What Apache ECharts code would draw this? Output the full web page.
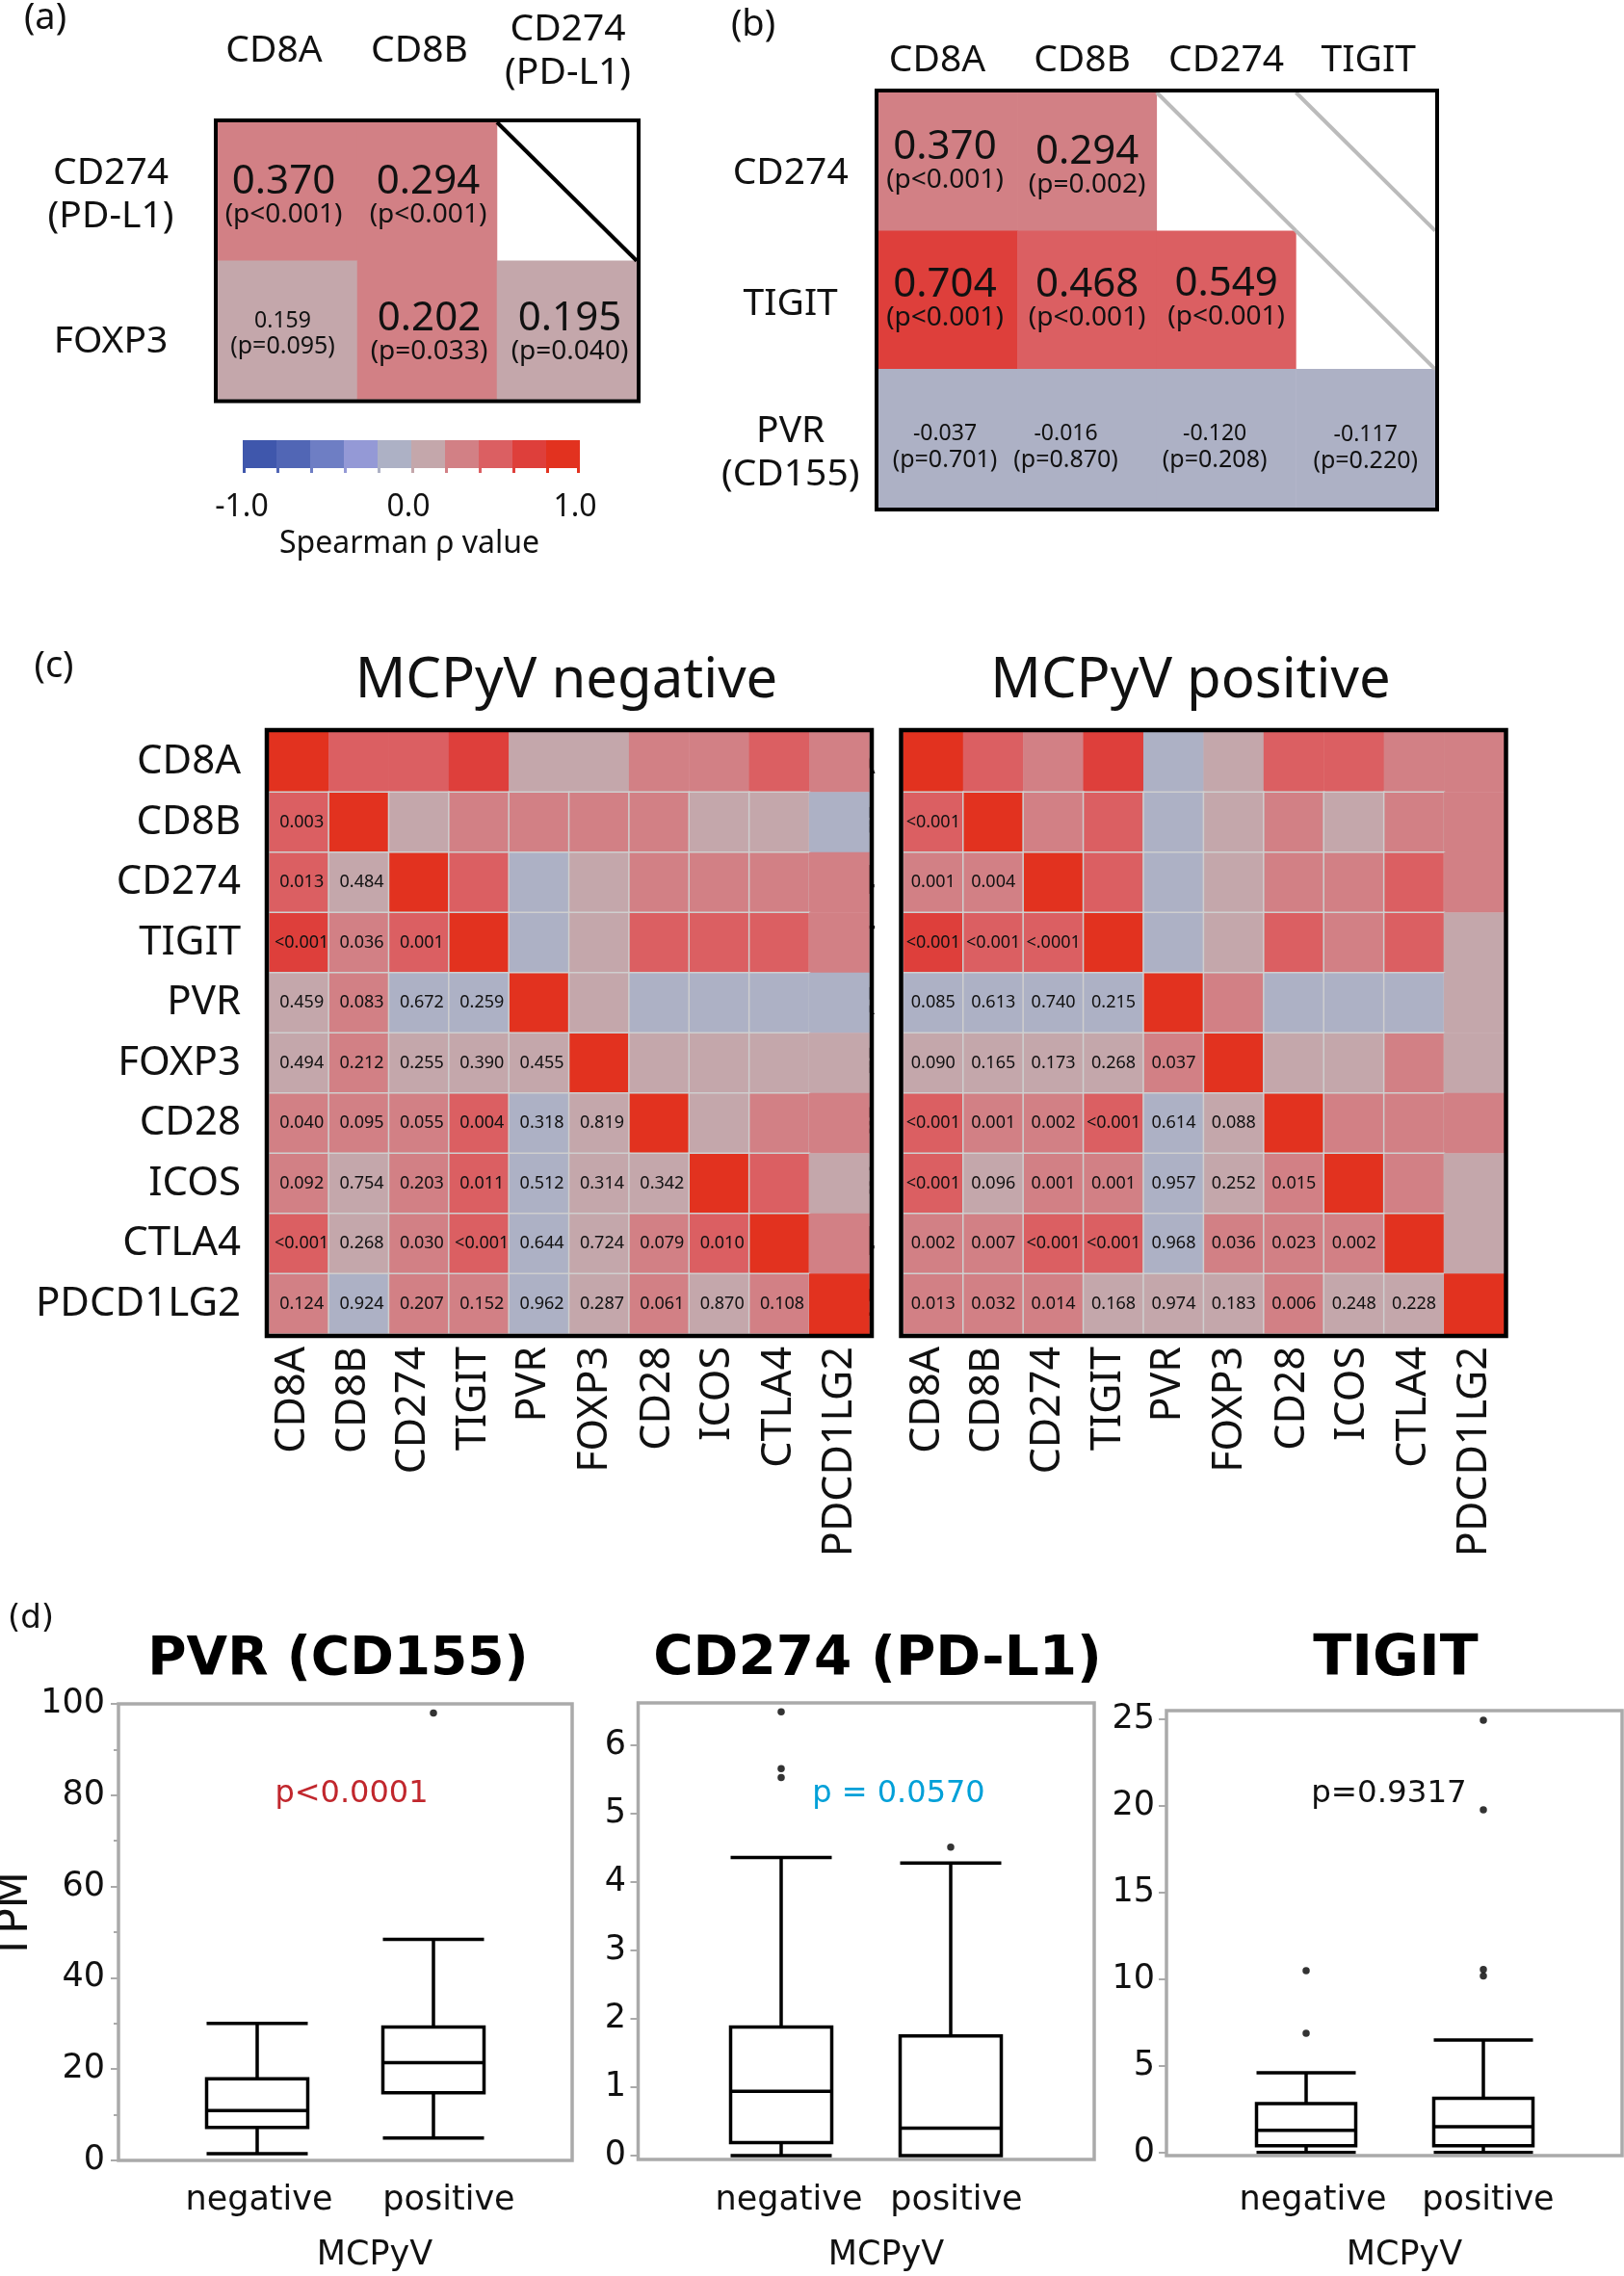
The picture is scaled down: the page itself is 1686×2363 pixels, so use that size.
<!DOCTYPE html>
<html>
<head>
<meta charset="utf-8">
<style>html,body{margin:0;padding:0;background:#fff}#c{width:1686px;height:2363px}</style>
<script src="https://cdn.jsdelivr.net/npm/echarts@6/dist/echarts.min.js"></script>
</head>
<body>
<div id="c"></div>
<script>
// ---------- DATA ----------
const binEdges = [-1,-0.8,-0.6,-0.4,-0.2,0,0.2,0.4,0.6,0.8,1];
const binColors = ['#3f57ac','#5166b5','#6e7ec4','#9499d6','#adb1c5','#c4a7ab','#d28085','#db5f62','#de3f3b','#e2321f'];
const colorbarTicks = [-1,0,1];

const aCols = ['CD8A','CD8B','CD274\n(PD-L1)'];
const aRows = ['CD274\n(PD-L1)','FOXP3'];
const aRho = [[0.370,0.294,null],[0.159,0.202,0.195]];
const aP = [['(p<0.001)','(p<0.001)',null],['(p=0.095)','(p=0.033)','(p=0.040)']];
const aDiag = [[2,0]];

const bCols = ['CD8A','CD8B','CD274','TIGIT'];
const bRows = ['CD274','TIGIT','PVR\n(CD155)'];
const bRho = [[0.370,0.294,null,null],[0.704,0.468,0.549,null],[-0.037,-0.016,-0.120,-0.117]];
const bP = [['(p<0.001)','(p=0.002)',null,null],['(p<0.001)','(p<0.001)','(p<0.001)',null],['(p=0.701)','(p=0.870)','(p=0.208)','(p=0.220)']];
const bDiag = [[2,0],[3,1],[3,0]];

const genes = ['CD8A','CD8B','CD274','TIGIT','PVR','FOXP3','CD28','ICOS','CTLA4','PDCD1LG2'];
// rho values
const negRho = [
 [1,.5,.5,.7,.1,.1,.3,.3,.5,.3],
 [.5,1,.1,.3,.3,.3,.3,.1,.1,-.1],
 [.5,.1,1,.5,-.1,.1,.3,.3,.3,.3],
 [.7,.3,.5,1,-.1,.1,.5,.5,.5,.3],
 [.1,.3,-.1,-.1,1,.1,-.1,-.1,-.1,-.1],
 [.1,.3,.1,.1,.1,1,.1,.1,.1,.1],
 [.3,.3,.3,.5,-.1,.1,1,.1,.3,.3],
 [.3,.1,.3,.5,-.1,.1,.1,1,.5,.1],
 [.5,.1,.3,.5,-.1,.1,.3,.5,1,.3],
 [.3,-.1,.3,.3,-.1,.1,.3,.1,.3,1]];
const posRho = [
 [1,.5,.3,.7,-.1,.1,.5,.5,.3,.3],
 [.5,1,.3,.5,-.1,.1,.3,.1,.3,.3],
 [.3,.3,1,.5,-.1,.1,.3,.3,.5,.3],
 [.7,.5,.5,1,-.1,.1,.5,.3,.5,.1],
 [-.1,-.1,-.1,-.1,1,.3,-.1,-.1,-.1,.1],
 [.1,.1,.1,.1,.3,1,.1,.1,.3,.1],
 [.5,.3,.3,.5,-.1,.1,1,.3,.3,.3],
 [.5,.1,.3,.3,-.1,.1,.3,1,.3,.1],
 [.3,.3,.5,.5,-.1,.3,.3,.3,1,.1],
 [.3,.3,.3,.1,.1,.1,.3,.1,.1,1]];
const negP = [[],
 ['0.003'],
 ['0.013','0.484'],
 ['<0.001','0.036','0.001'],
 ['0.459','0.083','0.672','0.259'],
 ['0.494','0.212','0.255','0.390','0.455'],
 ['0.040','0.095','0.055','0.004','0.318','0.819'],
 ['0.092','0.754','0.203','0.011','0.512','0.314','0.342'],
 ['<0.001','0.268','0.030','<0.001','0.644','0.724','0.079','0.010'],
 ['0.124','0.924','0.207','0.152','0.962','0.287','0.061','0.870','0.108']];
const posP = [[],
 ['<0.001'],
 ['0.001','0.004'],
 ['<0.001','<0.001','<.0001'],
 ['0.085','0.613','0.740','0.215'],
 ['0.090','0.165','0.173','0.268','0.037'],
 ['<0.001','0.001','0.002','<0.001','0.614','0.088'],
 ['<0.001','0.096','0.001','0.001','0.957','0.252','0.015'],
 ['0.002','0.007','<0.001','<0.001','0.968','0.036','0.023','0.002'],
 ['0.013','0.032','0.014','0.168','0.974','0.183','0.006','0.248','0.228']];

const groups = ['negative','positive'];
// [low, Q1, median, Q3, high]
const pvrBox = [[1.5,7.2,10.9,17.9,30.0],[4.9,14.8,21.4,29.2,48.4]];
const pvrOut = [[1,98]];
const cd274Box = [[0,0.19,0.94,1.88,4.36],[0,0.0,0.40,1.75,4.28]];
const cd274Out = [[0,6.49],[0,5.66],[0,5.53],[1,4.51]];
const tigitBox = [[0,0.38,1.28,2.82,4.6],[0,0.38,1.49,3.13,6.49]];
const tigitOut = [[0,10.49],[0,6.87],[1,24.95],[1,19.77],[1,10.56],[1,10.18]];

// ---------- LAYOUT TWEAKS (label nudges, px) ----------
const aCellShift = [[[-4,5],[1,5],null],[[-5,4],[2,3],[3,3]]];
const bCellShift = [[[-3,0],[0,5],null,null],[[-3,0],[0,0],[0,-1],null],[[-3,9],[-22,9],[-12,9],[0,10]]];
const cLabelPad = [12,12,12,11,11,9,3,3,0,0];

// ---------- BUILD ----------
const SANS = '"Noto Sans"', DJV = '"DejaVu Sans"', INK = '#111';
const grids = [], xAxes = [], yAxes = [], series = [], graphic = [], heatIdx = [];
const box = (l,t,r,b,extra) => Object.assign({left:l,top:t,width:r-l,height:b-t,show:false,containLabel:false,outerBoundsMode:'none'},extra||{});
function frame(l,t,r,b,color,w){
  graphic.push({type:'rect',z:50,shape:{x:l,y:t,width:r-l,height:b-t},style:{fill:'none',stroke:color,lineWidth:w}});
}
function text(t,x,y,size,opt){
  opt = opt||{};
  graphic.push({type:'text',z:60,x,y,rotation:opt.rotation||0,style:{text:t,fontSize:size,fontFamily:opt.font||SANS,fontWeight:opt.weight||'normal',fill:opt.fill||INK,align:'center',verticalAlign:'middle'}});
}
// Rich-text axis labels nudged by [dx,dy] per category
function nudged(labels, offs, size, font, lh){
  const rich = {};
  offs.forEach((o,i)=>{
    const pt = o[1]>0?2*o[1]:0, pr = o[0]<0?-2*o[0]:0, pl = o[0]>0?2*o[0]:0;
    rich['l'+i] = {fontSize:size,fontFamily:font,color:INK,lineHeight:lh,padding:[0,pr,0,pl]};
    rich['f'+i] = {fontSize:size,fontFamily:font,color:INK,lineHeight:lh+pt,padding:[pt,pr,0,pl]};
  });
  return {rich, formatter:(v)=>{
    const i = labels.indexOf(v);
    return v.split('\n').map((s,k)=>'{'+(k===0?'f':'l')+i+'|'+s+'}').join('\n');
  }};
}
function isBig(p){
  const m = /=(\d*\.\d+)/.exec(p);
  return !m || parseFloat(m[1]) < 0.05;
}
function diagRender(color,w){
  return function(params,api){
    const c = api.coord([api.value(0),api.value(1)]), s = api.size([1,1]);
    return {type:'line',shape:{x1:c[0]-s[0]/2,y1:c[1]-s[1]/2,x2:c[0]+s[0]/2,y2:c[1]+s[1]/2},style:{stroke:color,lineWidth:w,lineCap:'butt'},z2:10};
  };
}
function smallHeat(rect,cols,rows,rho,ps,shift,diag,diagColor,diagW,xOff,yOff,xMargin,yMargin,fs){
  const gi = grids.length;
  grids.push(box(rect[0],rect[1],rect[2],rect[3]));
  const xl = nudged(cols,xOff,fs,SANS,45), yl = nudged(rows,yOff,fs,SANS,45);
  xAxes.push({gridIndex:gi,type:'category',data:cols,position:'top',axisLine:{show:false},axisTick:{show:false},splitLine:{show:false},
    axisLabel:Object.assign({interval:0,margin:xMargin,verticalAlign:'middle'},xl)});
  yAxes.push({gridIndex:gi,type:'category',data:rows,inverse:true,axisLine:{show:false},axisTick:{show:false},splitLine:{show:false},
    axisLabel:Object.assign({interval:0,margin:yMargin,align:'center'},yl)});
  const data = [];
  rho.forEach((row,r)=>row.forEach((v,c)=>{
    if(v!==null) data.push({value:[c,r,v],label:{offset:shift[r][c]}});
  }));
  heatIdx.push(series.length);
  series.push({type:'heatmap',xAxisIndex:gi,yAxisIndex:gi,data,silent:true,
    itemStyle:{borderWidth:0},
    label:{show:true,color:INK,fontFamily:SANS,
      formatter:(p)=>{
        const [c,r,v]=p.value, pt=ps[r][c], vs=(v<0?'-':'')+Math.abs(v).toFixed(3);
        return isBig(pt)?'{big|'+vs+'}\n{sig|'+pt+'}':'{tiny|'+vs+'}\n{ns|'+pt+'}';
      },
      rich:{big:{fontSize:42,fontFamily:SANS,color:INK,lineHeight:38},sig:{fontSize:28,fontFamily:SANS,color:INK,lineHeight:30},
            tiny:{fontSize:23,fontFamily:SANS,color:INK,lineHeight:27},ns:{fontSize:25,fontFamily:SANS,color:INK,lineHeight:27}}}});
  series.push({type:'custom',xAxisIndex:gi,yAxisIndex:gi,data:diag,silent:true,clip:false,encode:{x:0,y:1},renderItem:diagRender(diagColor,diagW),z:5});
}
function bigHeat(rect,rho,ps,labelDx){
  const gi = grids.length;
  grids.push(box(rect[0],rect[1],rect[2],rect[3]));
  const rich = {};
  cLabelPad.forEach((p,i)=>{ rich['r'+i] = {fontSize:43,fontFamily:SANS,color:INK,padding:[0,0,p,0]}; });
  xAxes.push({gridIndex:gi,type:'category',data:genes,axisLine:{show:false},axisTick:{show:false},splitLine:{show:false},
    axisLabel:{interval:0,rotate:90,margin:13,align:'right',verticalAlign:'middle',rich,formatter:(v)=>'{r'+genes.indexOf(v)+'|'+v+'}'}});
  yAxes.push({gridIndex:gi,type:'category',data:genes,inverse:true,axisLine:{show:false},axisTick:{show:false},splitLine:{show:false},
    axisLabel:{interval:0,margin:29,fontSize:42,fontFamily:SANS,color:INK}});
  const data = [];
  rho.forEach((row,r)=>row.forEach((v,c)=>{
    const inner = r>=1 && c<=8;
    data.push({value:[c,r,v],itemStyle:inner?{borderColor:'#cfcfcf',borderWidth:1.5}:{borderWidth:0}});
  }));
  heatIdx.push(series.length);
  series.push({type:'heatmap',xAxisIndex:gi,yAxisIndex:gi,data,silent:true,
    label:{show:true,fontSize:18,fontFamily:SANS,color:INK,offset:[labelDx,0],
      formatter:(p)=>{const [c,r]=p.value;return (ps[r]&&ps[r][c])||'';}}});
}
function boxPanel(fr,inner,ymin,ymax,boxes,outs,yopts,xOff,boxW,labelMargin,tickRight){
  const gi = grids.length;
  grids.push(box(inner[0],inner[1],inner[2],inner[3]));
  const xl = nudged(groups,xOff,35,DJV,40);
  xAxes.push({gridIndex:gi,type:'category',data:groups,axisLine:{show:false},axisTick:{show:false},splitLine:{show:false},
    axisLabel:Object.assign({interval:0,margin:labelMargin,verticalAlign:'middle'},xl)});
  yAxes.push(Object.assign({gridIndex:gi,type:'value',min:ymin,max:ymax,offset:inner[0]-fr[0],
    axisLine:{show:false},splitLine:{show:false}},yopts,{
    axisTick:Object.assign({show:true,length:8,lineStyle:{color:'#aaa',width:2}},yopts.axisTick||{}),
    axisLabel:Object.assign({margin:fr[0]-tickRight,fontSize:35,fontFamily:DJV,color:INK},yopts.axisLabel||{})}));
  series.push({type:'boxplot',xAxisIndex:gi,yAxisIndex:gi,data:boxes,silent:true,boxWidth:[boxW,boxW],
    itemStyle:{color:'#fff',borderColor:'#000',borderWidth:3.5}});
  series.push({type:'scatter',xAxisIndex:gi,yAxisIndex:gi,data:outs,silent:true,clip:false,symbol:'circle',symbolSize:7.5,itemStyle:{color:'#000'}});
  frame(fr[0],fr[1],fr[2],fr[3],'#aaa',3.5);
}

// Panel (a)
smallHeat([226,127,661,414.5],aCols,aRows,aRho,aP,aCellShift,aDiag,'#000',4,
  [[-14,0],[-8,0],[1,0]],[[0,4],[0,12]],74,111,39);
frame(224,125,663,416.5,'#000',4);
// colour bar
(function(){
  const gi = grids.length;
  grids.push(box(252,457,602,486));
  xAxes.push({gridIndex:gi,type:'value',min:-1,max:1,axisLine:{show:false},axisTick:{show:false},splitLine:{show:false},
    axisLabel:{customValues:colorbarTicks,margin:41,fontSize:32,fontFamily:SANS,color:INK,verticalAlign:'middle',
      formatter:(v)=>{const s=v.toFixed(1);return v===0?'{m|'+s+'}':v===1?'{e|'+s+'}':'{b|'+s+'}';},
      rich:{b:{fontSize:32,fontFamily:SANS,color:INK,padding:[0,2,0,0]},m:{fontSize:32,fontFamily:SANS,color:INK,padding:[0,6,0,0]},e:{fontSize:32,fontFamily:SANS,color:INK,padding:[0,10,0,0]}}}});
  yAxes.push({gridIndex:gi,type:'value',min:0,max:1,show:false});
  const d = binColors.map((c,i)=>[binEdges[i],binEdges[i+1],i]);
  series.push({type:'custom',xAxisIndex:gi,yAxisIndex:gi,data:d,silent:true,clip:false,encode:{x:[0,1]},
    renderItem:(params,api)=>{
      const a=api.coord([api.value(0),0]),b=api.coord([api.value(1),1]),i=api.value(2),col=binColors[i];
      const kids=[{type:'rect',shape:{x:a[0],y:b[1],width:b[0]-a[0],height:a[1]-b[1]},style:{fill:col}},
                  {type:'rect',shape:{x:a[0],y:a[1],width:3,height:5},style:{fill:col}}];
      if(i===binColors.length-1) kids.push({type:'rect',shape:{x:b[0]-3,y:a[1],width:3,height:5},style:{fill:col}});
      return {type:'group',children:kids};
    }});
})();
text('Spearman ρ value',425,565,32);
text('(a)',47,19,38);

// Panel (b)
smallHeat([911.7,96,1490,527],bCols,bRows,bRho,bP,bCellShift,bDiag,'#bbb',4,
  [[-11,0],[-5,0],[0,0],[3,0]],[[0,12],[0,4],[0,15]],33,91,39);
frame(910,94,1492,529,'#000',4);
text('(b)',782,26,38);

// Panel (c)
bigHeat([279,760,902.6,1385],negRho,negP,3);
frame(277,758,905,1387,'#000',4.5);
bigHeat([937.6,760,1561.7,1385],posRho,posP,0);
frame(935.5,758,1563.5,1387,'#000',4.5);
text('(c)',56,692,38);
text('MCPyV negative',588,707,58);
text('MCPyV positive',1236,707,58);

// Panel (d)
boxPanel([123,1769,594,2243],[175.5,1769,541.5,2243],0,100,pvrBox,pvrOut,
  {interval:20,minorTick:{show:true,splitNumber:2,length:5,lineStyle:{color:'#aaa',width:2}}},
  [[2,0],[16,0]],105,42,109);
boxPanel([662.5,1768,1136,2242],[723,1768,1075,2238],0,6.62,cd274Box,cd274Out,
  {axisTick:{customValues:[0,1,2,3,4,5,6]},axisLabel:{customValues:[0,1,2,3,4,5,6]}},
  [[8,0],[6,0]],105,47,650);
boxPanel([1211,1776,1684,2238],[1264,1776,1632,2234.7],0,25.5,tigitBox,tigitOut,
  {axisTick:{customValues:[0,5,10,15,20,25]},axisLabel:{customValues:[0,5,10,15,20,25]}},
  [[7,0],[5,0]],103,50.3,1199);
text('TPM',17,1989,44,{font:DJV,rotation:Math.PI/2});
text('(d)',32,1681,34,{font:DJV});
text('PVR (CD155)',351,1724,55,{font:DJV,weight:'bold',fill:'#000'});
text('CD274 (PD-L1)',911,1724,56.5,{font:DJV,weight:'bold',fill:'#000'});
text('TIGIT',1449,1724,58.5,{font:DJV,weight:'bold',fill:'#000'});
text('p<0.0001',365,1863,32,{font:DJV,fill:'#c1272d'});
text('p = 0.0570',933,1863,32,{font:DJV,fill:'#00a0d8'});
text('p=0.9317',1442,1863,32.5,{font:DJV});
text('MCPyV',389,2342,35,{font:DJV});
text('MCPyV',920,2342,35,{font:DJV});
text('MCPyV',1458,2342,35,{font:DJV});

const chart = echarts.init(document.getElementById('c'),null,{renderer:'canvas',width:1686,height:2363});
chart.setOption({
  animation:false,backgroundColor:'#fff',
  grid:grids,xAxis:xAxes,yAxis:yAxes,series,graphic:{elements:graphic},
  visualMap:{type:'piecewise',show:false,seriesIndex:heatIdx,dimension:2,
    pieces:binColors.map((c,i)=>({gte:binEdges[i],lt:i===binColors.length-1?1.01:binEdges[i+1],color:c}))}
});
</script>
</body>
</html>
